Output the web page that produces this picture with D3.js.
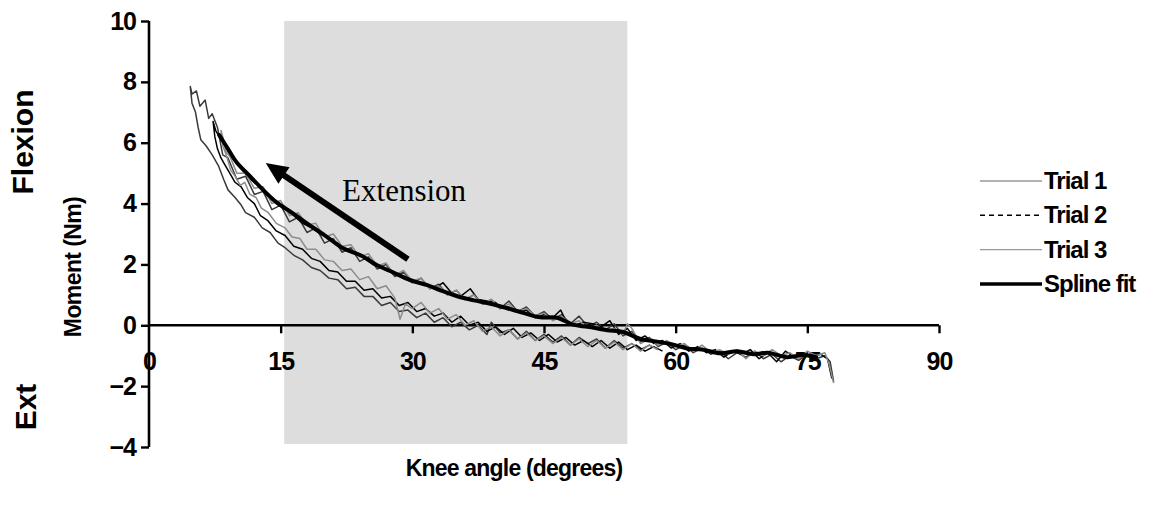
<!DOCTYPE html>
<html>
<head>
<meta charset="utf-8">
<script src="https://cdn.jsdelivr.net/npm/d3@7"></script>
<style>
  body { margin: 0; background: #fff; }
  svg text { font-family: "Liberation Sans", Arial, sans-serif; font-weight: bold; }
</style>
</head>
<body>
<svg width="1160" height="508"></svg>
<script>
//tick values and labels
var xTicks = [0, 15, 30, 45, 60, 75, 90];
var yTicks = [-4, -2, 0, 2, 4, 6, 8, 10];

//shaded region of knee angle (degrees)
var shadeRange = [15.4, 54.5];

//Trial data: [knee angle, moment]
//each trial runs from 78 deg along the upper band to its peak, then back along the lower band
var trial1 = [
  [78,-1.85],[77.6,-1.2],[77,-1.0],[76,-1.1],[75,-0.95],[74,-1.15],[73,-1.0],[72,-1.2],[71,-0.95],[70,-1.1],
  [69,-0.85],[68,-1.05],[67,-0.9],[66,-1.1],[65,-0.85],[64,-0.95],[63,-0.75],[62,-0.9],[61,-0.65],[60,-0.8],
  [59,-0.55],[58,-0.7],[57,-0.4],[56,-0.55],[55,-0.2],[54,-0.35],[53,0.05],[52,-0.15],[51,0.1],[50,-0.05],
  [49,0.3],[48,0.05],[47,0.35],[46,0.2],[45,0.45],[44,0.3],[43,0.6],[42,0.45],[41,0.8],[40,0.55],
  [39,0.85],[38,0.7],[37,1.0],[36,0.85],[35,1.15],[34,1.0],[33,1.35],[32,1.2],[31,1.55],[30,1.4],
  [29,1.75],[28,1.6],[27,2.0],[26,1.85],[25,2.25],[24,2.1],[23,2.55],[22,2.4],[21,2.85],[20,2.7],
  [19,3.2],[18,3.05],[17,3.55],[16,3.4],[15,3.95],[14,3.8],[13,4.4],[12,4.3],[11,4.9],[10,4.8],
  [9,5.5],[8.4,5.6],[7.8,6.5],[7.2,6.95],[6.8,6.8],[6.4,7.4],[5.8,7.2],[5.4,7.7],[4.9,7.6],[4.7,7.85],
  [4.9,7.3],[5.3,7.0],[5.6,6.5],[5.9,6.1],[6.5,5.9],[7.2,5.6],[7.9,5.25],[8.5,4.8],[9,4.45],[9.8,4.2],
  [10.5,3.95],[11,3.7],[12,3.55],[12.9,3.2],[13.8,3.05],[14.7,2.7],[15.5,2.55],[16.5,2.3],[17.5,2.15],[18.5,1.9],
  [19.5,1.8],[20.5,1.55],[21.5,1.5],[22.5,1.2],[23.5,1.25],[24.5,0.95],[25.5,0.95],[26.5,0.65],[27.5,0.75],[28.5,0.45],
  [29.5,0.5],[30.5,0.25],[31.5,0.4],[32.5,0.1],[33.5,0.25],[34.5,-0.05],[35.5,0.1],[36.5,-0.15],[37.5,0.0],[38.5,-0.3],
  [39,0.1],[40,-0.25],[41,-0.15],[42,-0.45],[43,-0.2],[44,-0.5],[45,-0.3],[46,-0.55],[47,-0.35],[48,-0.65],
  [49,-0.4],[50,-0.6],[51,-0.45],[52,-0.75],[53,-0.5],[54,-0.75],[55,-0.6],[56,-0.8],[57,-0.65],[58,-0.8]
];

var trial2 = [
  [77.8,-1.75],[77.3,-1.1],[76.5,-0.95],[75.5,-1.1],[74.5,-0.9],[73.5,-1.05],[72.5,-0.85],[71.5,-1.2],[70.5,-0.9],[69.5,-1.1],
  [68.5,-0.8],[67.5,-0.95],[66.5,-0.85],[65.5,-1.05],[64.5,-0.8],[63.5,-0.9],[62.5,-0.7],[61.5,-0.85],[60.5,-0.6],[59.5,-0.75],
  [58.5,-0.5],[57.5,-0.6],[56.5,-0.35],[55.5,-0.5],[54.5,-0.1],[53.5,-0.3],[52.5,0.15],[51.5,-0.05],[50.5,0.05],[49.5,0.1],
  [48.5,0.0],[47.5,0.15],[46.9,0.5],[46,0.25],[45,0.35],[44,0.25],[43,0.5],[42,0.45],[41,0.6],[40,0.55],
  [39.5,0.75],[38.5,0.8],[37.5,0.85],[36.6,1.2],[35.5,0.95],[34.5,1.05],[33.5,1.4],[32.5,1.2],[31.5,1.35],[30.5,1.45],
  [29.5,1.5],[28.5,1.65],[27.5,1.8],[26.5,1.9],[25.5,2.0],[24.5,2.25],[23.5,2.35],[22.5,2.45],[21.5,2.7],[20.5,2.85],
  [19.5,3.0],[18.5,3.2],[17.5,3.35],[16.5,3.6],[15.5,3.8],[14.5,4.0],[13.5,4.25],[12.5,4.6],[11.5,4.8],[10.5,5.15],
  [9.5,5.5],[8.8,5.85],[8.2,6.1],[7.6,6.4],[7.3,6.7],
  [7.5,6.2],[7.8,5.8],[8.2,5.5],[8.6,5.3],[9.2,5.0],[9.8,4.7],[10.5,4.55],[11.2,4.2],[12,4.0],[12.7,3.6],
  [13.5,3.45],[14.5,3.1],[15.5,2.95],[16.5,2.6],[17.5,2.5],[18.5,2.2],[19.5,2.1],[20.5,1.8],[21.5,1.75],[22.5,1.45],
  [23.5,1.45],[24.5,1.15],[25.5,1.2],[26.5,0.9],[27.5,0.95],[28.5,0.65],[29.5,0.75],[30.5,0.45],[31.5,0.55],[32.5,0.3],
  [33.5,0.4],[34.5,0.1],[35.5,0.3],[36.5,0.0],[37.5,0.1],[38.5,-0.2],[39.5,-0.05],[40.5,-0.3],[41.5,-0.1],[42.5,-0.4],
  [43.5,-0.25],[44.5,-0.5],[45.5,-0.3],[46.5,-0.55],[47.5,-0.4],[48.5,-0.65],[49.5,-0.5],[50.5,-0.7],[51.5,-0.5],[52.5,-0.75],
  [53.5,-0.55],[54.5,-0.8],[55.5,-0.65],[56.5,-0.85],[57.5,-0.7],[58.5,-0.85]
];

var trial3 = [
  [78,-1.9],[77.5,-1.3],[77,-0.9],[76,-1.0],[75,-0.85],[74,-1.1],[73,-0.9],[72,-1.0],[71,-0.8],[70,-1.0],
  [69,-0.85],[68,-1.1],[67,-0.8],[66,-0.95],[65,-0.8],[64,-0.9],[63,-0.65],[62,-0.85],[61,-0.6],[60,-0.7],
  [59,-0.5],[58,-0.65],[57,-0.45],[56,-0.6],[55,-0.1],[54.5,0.05],[54,-0.3],[53,-0.1],[52,-0.2],[51,0.0],
  [50,-0.1],[49,0.15],[48,0.05],[47,0.3],[46,0.15],[45,0.4],[44,0.3],[43,0.55],[42,0.45],[41,0.7],
  [40,0.55],[39,0.85],[38,0.7],[37,1.0],[36,0.85],[35,1.15],[34,1.0],[33,1.3],[32,1.2],[31,1.55],
  [30,1.45],[29,1.8],[28,1.65],[27,2.05],[26,1.95],[25,2.35],[24,2.25],[23,2.65],[22,2.6],[21,3.0],
  [20,2.9],[19,3.35],[18,3.3],[17,3.7],[16,3.6],[15,4.1],[14,4.0],[13,4.55],[12,4.5],[11,5.0],
  [10,5.0],[9.3,5.5],[8.8,5.7],[8.4,6.2],[8.2,6.4],
  [8.4,5.9],[8.8,5.6],[9.3,5.1],[9.8,4.9],[10.4,4.6],[10.9,4.7],[11.5,4.3],[12.2,4.2],[12.8,3.85],[13.6,3.7],
  [14.5,3.35],[15.5,3.2],[16.3,2.9],[17.2,2.85],[18,2.5],[19,2.5],[20,2.15],[21,2.1],[22,1.8],[23,1.85],
  [24,1.5],[25,1.6],[26,1.2],[27,1.3],[28,0.9],[28.6,0.2],[29.2,0.7],[30,0.55],[31,0.75],[32,0.4],
  [33,0.55],[34,0.2],[35,0.35],[36,0.0],[37,0.15],[38,-0.2],[39,-0.05],[40,-0.35],[41,-0.15],[42,-0.45],
  [43,-0.25],[44,-0.5],[45,-0.35],[46,-0.6],[47,-0.4],[48,-0.65],[49,-0.45],[50,-0.7],[51,-0.5],[52,-0.75],
  [53,-0.55],[54,-0.8],[55,-0.6],[56,-0.85],[57,-0.65],[58,-0.8]
];

var splineFit = [
  [8,6.25],[9,5.8],[10,5.35],[11.5,4.9],[13,4.45],[14.5,4.05],[16.4,3.68],[18,3.35],[20.3,2.9],[22,2.55],
  [24.1,2.3],[26,1.97],[27.8,1.74],[29.8,1.48],[31.7,1.32],[33.2,1.15],[35.5,0.92],[37,0.82],[39,0.7],[40.8,0.56],
  [42.5,0.42],[44.6,0.26],[46.5,0.25],[48.3,0.02],[50,-0.05],[52.2,-0.16],[54,-0.22],[56,-0.45],[57.5,-0.52],[59.5,-0.62],
  [61.3,-0.76],[63,-0.8],[65.1,-0.92],[67,-0.85],[68.9,-0.95],[70.5,-0.9],[72.7,-1.05],[74.5,-0.98],[76,-1.05]
];

var seriesNames = ["Trial 1", "Trial 2", "Trial 3", "Spline fit"];

//arrow annotation: tail and tip in data units
var arrowTail = [29.5, 2.17],
  arrowTip = [13.3, 5.33];

var svg = d3.select("svg");

var x = d3.scaleLinear().domain([0, 90]).range([149, 939]);
var y = d3.scaleLinear().domain([-4, 10]).range([447, 21]);

//grey band behind the curves
svg.append("rect")
  .attr("x", x(shadeRange[0]))
  .attr("y", y(10))
  .attr("width", x(shadeRange[1]) - x(shadeRange[0]))
  .attr("height", y(-3.9) - y(10))
  .attr("fill", "#dddddd");

//styles per series
//Trial 2 is dashed in the legend only: the plotted curve is made of tiny segments and reads as solid
var styles = [
  {stroke: "#3a3a3a", width: 1.5, legendStroke: "#666", legendWidth: 1.2},
  {stroke: "#000", width: 1.5, legendStroke: "#000", legendWidth: 1.6, legendDash: "5,4"},
  {stroke: "#8c8c8c", width: 1.5, legendStroke: "#999", legendWidth: 1.2},
  {stroke: "#000", width: 4, legendStroke: "#000", legendWidth: 3.5}
];

var line = d3.line()
  .x(function(d){ return x(d[0]); })
  .y(function(d){ return y(d[1]); });

var splineLine = d3.line()
  .x(function(d){ return x(d[0]); })
  .y(function(d){ return y(d[1]); })
  .curve(d3.curveCatmullRom);

//axes (x axis crosses at moment = 0)
var yAxis = svg.append("g")
  .attr("transform", "translate(" + x(0) + ",0)")
  .call(d3.axisLeft(y).tickValues(yTicks).tickSize(8).tickPadding(5));

var xAxis = svg.append("g")
  .attr("transform", "translate(0," + y(0) + ")")
  .call(d3.axisBottom(x).tickValues(xTicks).tickSize(8).tickPadding(19));

[yAxis, xAxis].forEach(function(a){
  a.select(".domain").attr("stroke", "#000").attr("stroke-width", 2.6);
  a.selectAll(".tick line").attr("stroke", "#000").attr("stroke-width", 2.4);
  a.selectAll("text")
    .attr("fill", "#000")
    .style("font-size", "25px")
    .style("letter-spacing", "-1px");
});
//axisLeft draws an outer tick; keep the domain a plain line
yAxis.select(".domain").attr("d", "M0," + y(-4) + "V" + y(10));
xAxis.select(".domain").attr("d", "M" + x(0) + ",0H" + x(90));
xAxis.selectAll(".tick").filter(function(d){ return d === 0; }).select("line").remove();

//trial curves, then the spline on top
var plot = svg.append("g");
[trial1, trial2, trial3].forEach(function(t, i){
  plot.append("path")
    .datum(t)
    .attr("d", line)
    .attr("fill", "none")
    .attr("stroke", styles[i].stroke)
    .attr("stroke-width", styles[i].width)
    .attr("stroke-linejoin", "round");
});

plot.append("path")
  .datum(splineFit)
  .attr("d", splineLine)
  .attr("fill", "none")
  .attr("stroke", "#000")
  .attr("stroke-width", styles[3].width)
  .attr("stroke-linecap", "round");

//arrow
var ax0 = x(arrowTail[0]), ay0 = y(arrowTail[1]),
  ax1 = x(arrowTip[0]), ay1 = y(arrowTip[1]),
  ang = Math.atan2(ay1 - ay0, ax1 - ax0),
  headLen = 22, headHalf = 10;
var baseX = ax1 - headLen * Math.cos(ang),
  baseY = ay1 - headLen * Math.sin(ang);

svg.append("line")
  .attr("x1", ax0).attr("y1", ay0)
  .attr("x2", baseX + 2 * Math.cos(ang)).attr("y2", baseY + 2 * Math.sin(ang))
  .attr("stroke", "#000")
  .attr("stroke-width", 6);

svg.append("path")
  .attr("d", "M" + ax1 + "," + ay1 +
    "L" + (baseX + headHalf * Math.sin(ang)) + "," + (baseY - headHalf * Math.cos(ang)) +
    "L" + (baseX - headHalf * Math.sin(ang)) + "," + (baseY + headHalf * Math.cos(ang)) + "Z")
  .attr("fill", "#000");

svg.append("text")
  .attr("x", x(22))
  .attr("y", y(4.07))
  .style("font-family", "'Liberation Serif', 'Times New Roman', serif")
  .style("font-weight", "normal")
  .style("font-size", "31px")
  .text("Extension");

//axis titles
svg.append("text")
  .attr("x", 514)
  .attr("y", 476)
  .attr("text-anchor", "middle")
  .style("font-size", "23px")
  .style("letter-spacing", "-0.8px")
  .text("Knee angle (degrees)");

svg.append("text")
  .attr("transform", "translate(81,267) rotate(-90)")
  .attr("text-anchor", "middle")
  .style("font-size", "23px")
  .style("letter-spacing", "-0.6px")
  .text("Moment (Nm)");

svg.append("text")
  .attr("transform", "translate(33,142) rotate(-90)")
  .attr("text-anchor", "middle")
  .style("font-size", "30px")
  .text("Flexion");

svg.append("text")
  .attr("transform", "translate(36,407) rotate(-90)")
  .attr("text-anchor", "middle")
  .style("font-size", "30px")
  .text("Ext");

//legend
var legend = svg.append("g")
  .selectAll("g")
  .data(seriesNames)
  .enter()
  .append("g")
  .attr("transform", function(d, i){ return "translate(980," + (181 + i * 34.3) + ")"; });

legend.append("line")
  .attr("x1", 0).attr("x2", 62)
  .attr("stroke", function(d, i){ return styles[i].legendStroke; })
  .attr("stroke-width", function(d, i){ return styles[i].legendWidth; })
  .attr("stroke-dasharray", function(d, i){ return styles[i].legendDash || null; });

legend.append("text")
  .attr("x", 64)
  .attr("y", 8)
  .style("font-size", "24px")
  .style("letter-spacing", "-1px")
  .text(function(d){ return d; });
</script>
</body>
</html>
